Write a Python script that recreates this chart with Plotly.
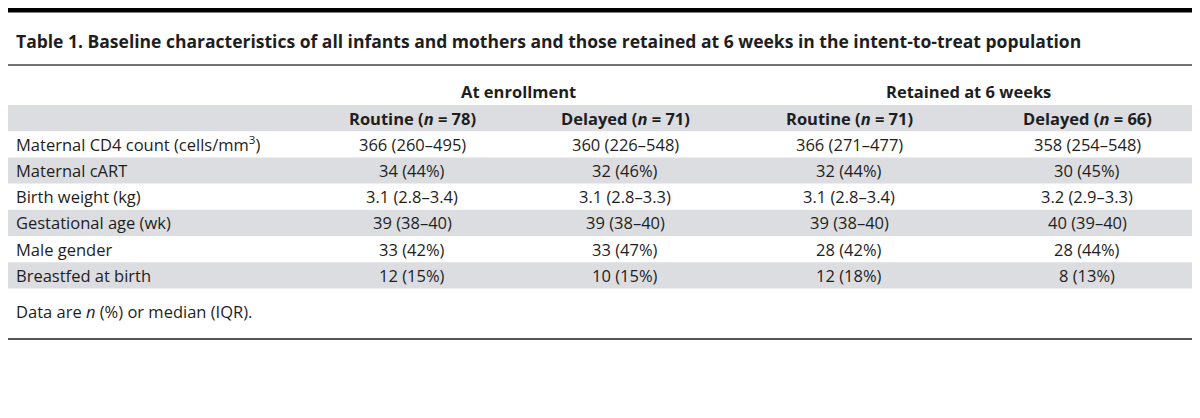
import plotly.graph_objects as go

# ---- data ----
title_text = "Table 1. Baseline characteristics of all infants and mothers and those retained at 6 weeks in the intent-to-treat population"
group_headers = ["At enrollment", "Retained at 6 weeks"]
col_headers = ["Routine (<i>n</i> = 78)", "Delayed (<i>n</i> = 71)", "Routine (<i>n</i> = 71)", "Delayed (<i>n</i> = 66)"]
row_labels = [
    "Maternal CD4 count (cells/mm<sup>3</sup>)",
    "Maternal cART",
    "Birth weight (kg)",
    "Gestational age (wk)",
    "Male gender",
    "Breastfed at birth",
]
enroll_routine = ["366 (260–495)", "34 (44%)", "3.1 (2.8–3.4)", "39 (38–40)", "33 (42%)", "12 (15%)"]
enroll_delayed = ["360 (226–548)", "32 (46%)", "3.1 (2.8–3.3)", "39 (38–40)", "33 (47%)", "10 (15%)"]
ret_routine = ["366 (271–477)", "32 (44%)", "3.1 (2.8–3.4)", "39 (38–40)", "28 (42%)", "12 (18%)"]
ret_delayed = ["358 (254–548)", "30 (45%)", "3.2 (2.9–3.3)", "40 (39–40)", "28 (44%)", "8 (13%)"]
footnote = "Data are <i>n</i> (%) or median (IQR)."

# ---- layout constants ----
W, H = 1200, 418
FONT = "'Open Sans', Roboto, sans-serif"
TXT = "#1e1e1e"
BAND = "#dcdde0"
BODY = 16.5
col_x = [404, 617, 841, 1079]
label_x = 8
header_top = 97
row_h = 26.2

columns = [enroll_routine, enroll_delayed, ret_routine, ret_delayed]

shapes = []
annotations = []

# top black bar
shapes.append(dict(type="rect", xref="x", yref="y", x0=0, x1=W, y0=0, y1=4.5,
                   fillcolor="#000000", line_width=0, layer="below"))
# title
annotations.append(dict(x=label_x - 2, y=33, text="<b>" + title_text + "</b>", xanchor="left",
                        yanchor="middle", showarrow=False,
                        font=dict(family=FONT, size=17.5, color=TXT)))
# line under title
shapes.append(dict(type="line", xref="x", yref="y", x0=0, x1=W, y0=57, y1=57,
                   line=dict(color="#444444", width=1.5)))

# group headers
group_centers = [(col_x[0] + col_x[1]) / 2, (col_x[2] + col_x[3]) / 2]
for gx, g in zip(group_centers, group_headers):
    annotations.append(dict(x=gx, y=83, text="<b>" + g + "</b>", xanchor="center",
                            yanchor="middle", showarrow=False,
                            font=dict(family=FONT, size=BODY, color=TXT)))

# header band (row index -1) and body rows
n_rows = len(row_labels)
for i in range(-1, n_rows):
    top = header_top + (i + 1) * row_h
    if (i + 1) % 2 == 0:
        shapes.append(dict(type="rect", xref="x", yref="y", x0=0, x1=W, y0=top, y1=top + row_h,
                           fillcolor=BAND, line_width=0, layer="below"))
    cy = top + row_h / 2
    if i == -1:
        for cx, h in zip(col_x, col_headers):
            annotations.append(dict(x=cx, y=cy, text="<b>" + h + "</b>", xanchor="center",
                                    yanchor="middle", showarrow=False,
                                    font=dict(family=FONT, size=BODY, color=TXT)))
    else:
        annotations.append(dict(x=label_x - 2, y=cy, text=row_labels[i], xanchor="left",
                                yanchor="middle", showarrow=False,
                                font=dict(family=FONT, size=BODY, color=TXT)))
        for cx, col in zip(col_x, columns):
            annotations.append(dict(x=cx, y=cy, text=col[i], xanchor="center",
                                    yanchor="middle", showarrow=False,
                                    font=dict(family=FONT, size=BODY, color=TXT)))

# footnote
annotations.append(dict(x=label_x - 2, y=303, text=footnote, xanchor="left", yanchor="middle",
                        showarrow=False, font=dict(family=FONT, size=BODY, color=TXT)))
# bottom line
shapes.append(dict(type="line", xref="x", yref="y", x0=0, x1=W, y0=331, y1=331,
                   line=dict(color="#555555", width=2)))

fig = go.Figure()
fig.update_layout(
    width=W, height=H,
    margin=dict(l=0, r=0, t=0, b=0),
    paper_bgcolor="white", plot_bgcolor="white",
    xaxis=dict(range=[0, W], visible=False, fixedrange=True),
    yaxis=dict(range=[H, 0], visible=False, fixedrange=True),
    shapes=shapes, annotations=annotations,
    showlegend=False,
)
fig.write_html("out.html", config={"displayModeBar": False})
